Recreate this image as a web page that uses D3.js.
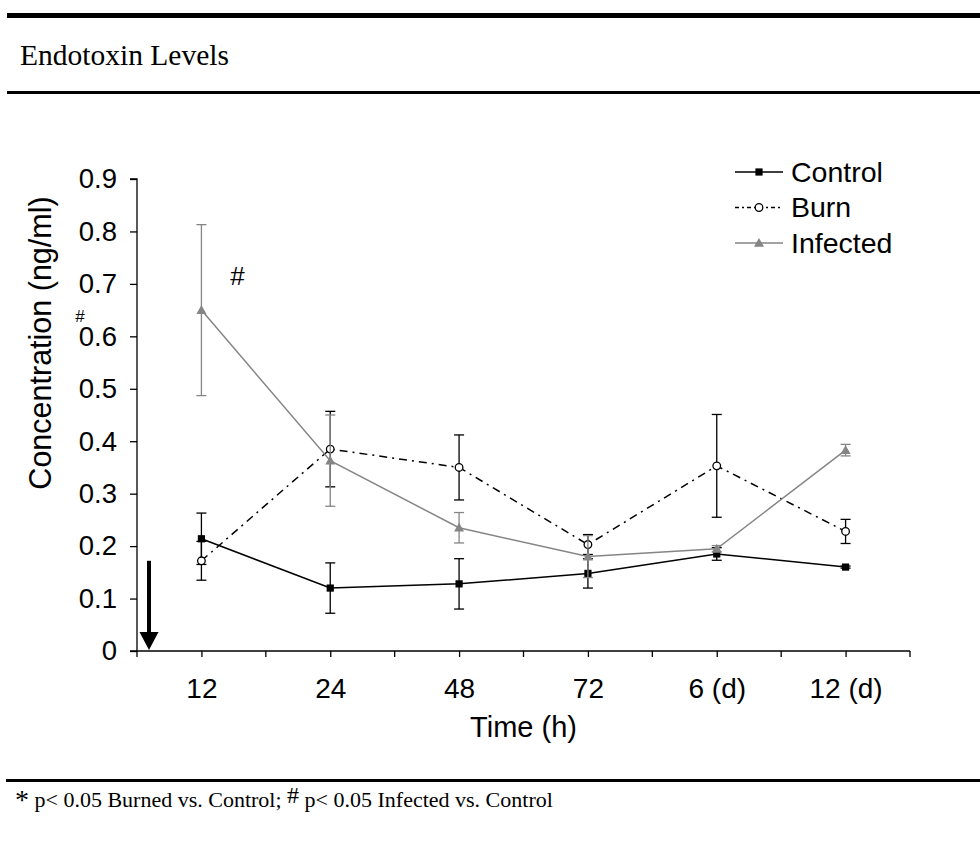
<!DOCTYPE html>
<html>
<head>
<meta charset="utf-8">
<script src="https://cdn.jsdelivr.net/npm/d3@7"></script>
<style>
  body { margin: 0; background: #fff; }
  svg { display: block; }
</style>
</head>
<body>
<svg class="graph" width="980" height="854"></svg>
<script>
// categories and series values
const categories = ['12', '24', '48', '72', '6 (d)', '12 (d)'];
const yTicks = [0, 0.1, 0.2, 0.3, 0.4, 0.5, 0.6, 0.7, 0.8, 0.9];

const controlMean = [0.214, 0.120, 0.128, 0.148, 0.185, 0.160];
const controlErr = [0.049, 0.048, 0.048, 0.028, 0.012, 0.002];
const burnMean = [0.172, 0.385, 0.350, 0.203, 0.353, 0.228];
const burnErr = [0.037, 0.072, 0.062, 0.019, 0.098, 0.023];
const infectedMean = [0.650, 0.363, 0.235, 0.180, 0.195, 0.383];
const infectedErr = [0.163, 0.087, 0.029, 0.040, 0.006, 0.011];

const series = [
    { name: 'Control', mean: controlMean, err: controlErr, color: '#000', marker: 'square', dash: null },
    { name: 'Burn', mean: burnMean, err: burnErr, color: '#000', marker: 'circle', dash: '8,5,2,5' },
    { name: 'Infected', mean: infectedMean, err: infectedErr, color: '#858585', marker: 'triangle', dash: null }
];

const sans = 'Liberation Sans, Arial, Helvetica, sans-serif';
const serif = 'Liberation Serif, Times New Roman, serif';

const svg = d3.select('svg.graph');

// page rules and title
svg.append('rect').attr('x', 7).attr('y', 13).attr('width', 973).attr('height', 5).attr('fill', '#000');
svg.append('rect').attr('x', 7).attr('y', 91).attr('width', 973).attr('height', 3).attr('fill', '#000');
svg.append('rect').attr('x', 6).attr('y', 779).attr('width', 974).attr('height', 3).attr('fill', '#000');

svg.append('text')
    .attr('x', 20).attr('y', 65)
    .attr('font-family', serif).attr('font-size', 29.5)
    .text('Endotoxin Levels');

// footnote
const foot = svg.append('text')
    .attr('x', 15).attr('y', 807)
    .attr('font-family', serif).attr('font-size', 22);
foot.append('tspan').attr('font-size', 28).attr('dy', 2).text('*');
foot.append('tspan').attr('dy', -2).text(' p< 0.05 Burned vs. Control; ');
foot.append('tspan').attr('font-size', 24).attr('dy', -4).text('#');
foot.append('tspan').attr('dy', 4).text(' p< 0.05 Infected vs. Control');

// scales
const x = d3.scalePoint().domain(categories).range([137, 910]).padding(0.5);
const y = d3.scaleLinear().domain([0, 0.9]).range([651, 179]);
const halfStep = x.step() / 2;

// y axis
const yAxis = svg.append('g')
    .attr('transform', `translate(${x.range()[0]},0)`)
    .call(d3.axisLeft(y).tickValues(yTicks).tickSize(7).tickPadding(13)
        .tickFormat(d => d === 0 ? '0' : d3.format('.1f')(d)));
yAxis.select('.domain').attr('d', `M-7,${y(0.9)}H0V${y(0)}`);

// x axis: ticks at category centres and at category boundaries
const xAxis = svg.append('g')
    .attr('transform', `translate(0,${y(0)})`)
    .call(d3.axisBottom(x).tickSize(6).tickPadding(21));
xAxis.select('.domain').attr('d', `M${x.range()[0] - 7},0H${x.range()[1]}`);
xAxis.selectAll('line.minor')
    .data(categories.map(c => x(c) - halfStep).concat([x(categories[categories.length - 1]) + halfStep]))
    .enter().append('line')
    .attr('class', 'minor')
    .attr('x1', d => d).attr('x2', d => d)
    .attr('y1', 0).attr('y2', 6)
    .attr('stroke', '#000');

svg.selectAll('g.tick text').attr('font-family', sans).attr('fill', '#000');
yAxis.selectAll('g.tick text').attr('font-size', 27.5);
xAxis.selectAll('g.tick text').attr('font-size', 28);
svg.selectAll('.domain, g.tick line').attr('stroke', '#000').attr('stroke-width', 1.3);
xAxis.selectAll('line.minor').attr('stroke-width', 1.3);

// axis titles
svg.append('text')
    .attr('x', (x.range()[0] + x.range()[1]) / 2).attr('y', 737)
    .attr('text-anchor', 'middle')
    .attr('font-family', sans).attr('font-size', 29)
    .text('Time (h)');

svg.append('text')
    .attr('transform', 'translate(51,343) rotate(-90)')
    .attr('text-anchor', 'middle')
    .attr('font-family', sans).attr('font-size', 30.5)
    .text('Concentration (ng/ml)');

// marker helpers
function drawMarker(sel, type, color) {
    if (type === 'square') {
        sel.append('rect').attr('x', -3.6).attr('y', -3.6).attr('width', 7.2).attr('height', 7.2).attr('fill', color);
    } else if (type === 'circle') {
        sel.append('circle').attr('r', 3.8).attr('fill', '#fff').attr('stroke', color).attr('stroke-width', 1.3);
    } else {
        sel.append('path').attr('d', 'M0,-5L5,3.8L-5,3.8Z').attr('fill', color);
    }
}

// series: error bars, line, markers
const line = d3.line().x(d => x(d.cat)).y(d => y(d.v));

series.forEach(s => {
    const pts = categories.map((cat, i) => ({ cat, v: s.mean[i], e: s.err[i] }));
    const g = svg.append('g').attr('class', 'series');

    const eb = g.selectAll('g.err').data(pts).enter().append('g').attr('class', 'err')
        .attr('stroke', s.color).attr('stroke-width', 1.3);
    eb.append('line')
        .attr('x1', d => x(d.cat)).attr('x2', d => x(d.cat))
        .attr('y1', d => y(d.v - d.e)).attr('y2', d => y(d.v + d.e));
    eb.append('line')
        .attr('x1', d => x(d.cat) - 5).attr('x2', d => x(d.cat) + 5)
        .attr('y1', d => y(d.v + d.e)).attr('y2', d => y(d.v + d.e));
    eb.append('line')
        .attr('x1', d => x(d.cat) - 5).attr('x2', d => x(d.cat) + 5)
        .attr('y1', d => y(d.v - d.e)).attr('y2', d => y(d.v - d.e));

    g.append('path')
        .attr('d', line(pts))
        .attr('fill', 'none')
        .attr('stroke', s.color)
        .attr('stroke-width', 1.5)
        .attr('stroke-dasharray', s.dash);

    g.selectAll('g.mk').data(pts).enter().append('g').attr('class', 'mk')
        .attr('transform', d => `translate(${x(d.cat)},${y(d.v)})`)
        .each(function () { drawMarker(d3.select(this), s.marker, s.color); });
});

// legend
const legend = svg.append('g').attr('transform', 'translate(735,172)');
series.forEach((s, i) => {
    const row = legend.append('g').attr('transform', `translate(0,${i * 35.5})`);
    row.append('line').attr('x1', 0).attr('x2', 48).attr('y1', 0).attr('y2', 0)
        .attr('stroke', s.color).attr('stroke-width', 1.4).attr('stroke-dasharray', s.dash ? '4,3,2,3' : null);
    drawMarker(row.append('g').attr('transform', 'translate(24,0)'), s.marker, s.color);
    row.append('text').attr('x', 56).attr('y', 0).attr('dy', '0.35em')
        .attr('font-family', sans).attr('font-size', 28.5)
        .text(s.name);
});

// annotations
svg.append('text')
    .attr('x', x(categories[0]) + 36).attr('y', y(0.697))
    .attr('text-anchor', 'middle')
    .attr('font-family', sans).attr('font-size', 26)
    .text('#');
svg.append('text')
    .attr('x', 80).attr('y', 322)
    .attr('text-anchor', 'middle')
    .attr('font-family', sans).attr('font-size', 17)
    .text('#');

// arrow marking the injury time point
const arrowX = x.range()[0] + 12;
svg.append('line')
    .attr('x1', arrowX).attr('x2', arrowX)
    .attr('y1', y(0.172)).attr('y2', y(0) - 16)
    .attr('stroke', '#000').attr('stroke-width', 4);
svg.append('path')
    .attr('d', `M${arrowX - 9.5},${y(0) - 19}L${arrowX + 9.5},${y(0) - 19}L${arrowX},${y(0) - 1}Z`)
    .attr('fill', '#000');
</script>
</body>
</html>
